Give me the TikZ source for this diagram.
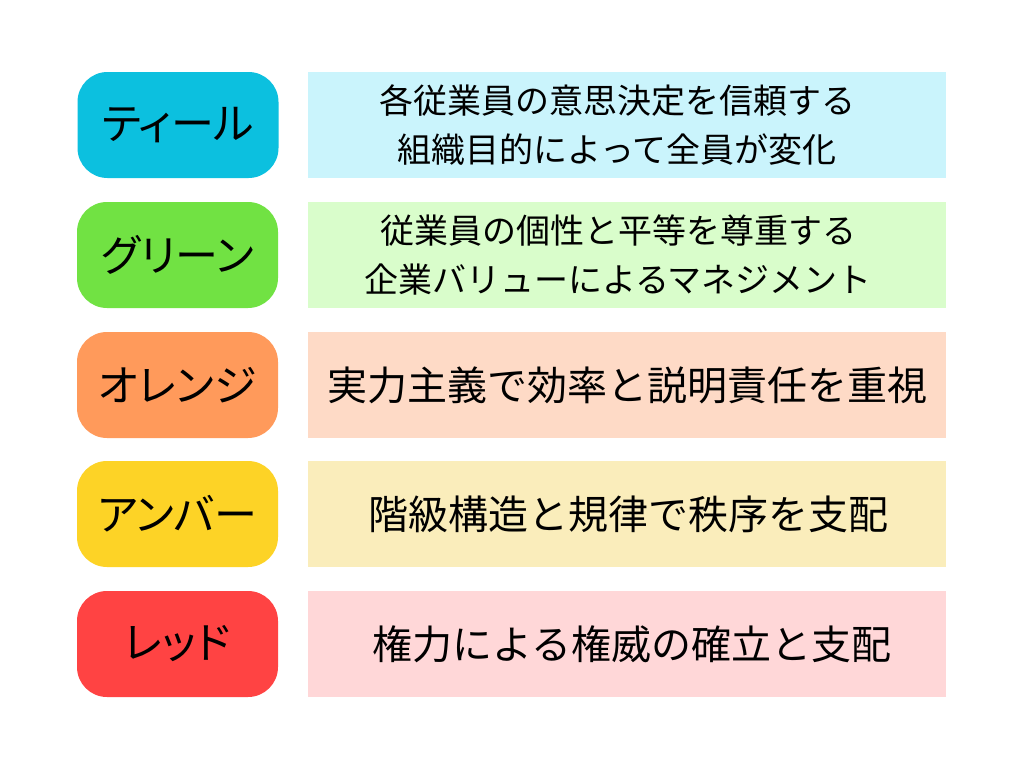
\documentclass[tikz,border=0pt]{standalone}
\usepackage{fontspec}
\newfontfamily\jp{Noto Sans CJK JP}
\newfontfamily\jpp[RawFeature=+palt]{Noto Sans CJK JP}
\definecolor{cTeal}{HTML}{0CC0DF}
\definecolor{cTealL}{HTML}{CAF4FC}
\definecolor{cGreen}{HTML}{71E243}
\definecolor{cGreenL}{HTML}{D9FDCB}
\definecolor{cOrange}{HTML}{FF9A5B}
\definecolor{cOrangeL}{HTML}{FEDAC6}
\definecolor{cYellow}{HTML}{FDD326}
\definecolor{cYellowL}{HTML}{FAEDBB}
\definecolor{cRed}{HTML}{FF4343}
\definecolor{cRedL}{HTML}{FFD7D8}
\tikzset{
  lab/.style={rounded corners=30pt, minimum width=201pt, minimum height=106pt, inner sep=0pt,
    font=\jpp\fontsize{43}{48}\selectfont, text=black},
  desc/.style={minimum width=638pt, minimum height=106pt, inner sep=0pt},
  dtxt/.style={inner sep=0pt, align=center, text=black},
  two/.style={font=\jp\fontsize{34}{49}\selectfont},
  one/.style={font=\jp\fontsize{40}{48}\selectfont},
}
\begin{document}
\begin{tikzpicture}[x=1pt,y=-1pt]
\useasboundingbox[fill=white] (0,0) rectangle (1024,768);
% left labels
\node[lab, fill=cTeal] (l1) at (178,125) {ティール};
\node[lab, fill=cGreen] (l2) at (177.5,255) {グリーン};
\node[lab, fill=cOrange] (l3) at (177.5,385) {オレンジ};
\node[lab, fill=cYellow] (l4) at (177.5,514) {アンバー};
\node[lab, fill=cRed] (l5) at (177.5,644) {レッド};
% right boxes
\node[desc, fill=cTealL] (r1) at (627,125) {};
\node[desc, fill=cGreenL] (r2) at (627,255) {};
\node[desc, fill=cOrangeL] (r3) at (627,385) {};
\node[desc, fill=cYellowL] (r4) at (627,514) {};
\node[desc, fill=cRedL] (r5) at (627,644) {};
% texts
\node[dtxt, two] (t1) at ([xshift=-10pt]r1.center) {各従業員の意思決定を信頼する\\組織目的によって全員が変化};
\node[dtxt, two] (t2) at ([xshift=-9pt]r2.center) {従業員の個性と平等を尊重する\\企業バリューによるマネジメント};
\node[dtxt, one] (t3) at ([xshift=0pt]r3.center) {実力主義で効率と説明責任を重視};
\node[dtxt, one] (t4) at ([xshift=1pt]r4.center) {階級構造と規律で秩序を支配};
\node[dtxt, one] (t5) at ([xshift=5pt]r5.center) {権力による権威の確立と支配};
\end{tikzpicture}
\end{document}
